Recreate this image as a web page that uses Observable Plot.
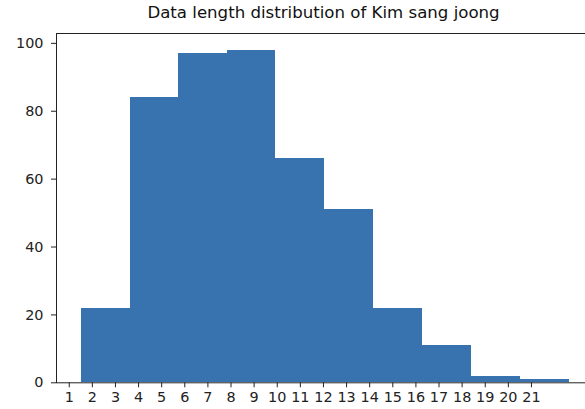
<!DOCTYPE html>
<html>
<head>
<meta charset="utf-8">
<script src="https://cdn.jsdelivr.net/npm/d3@7"></script>
<script src="https://cdn.jsdelivr.net/npm/@observablehq/plot@0.6"></script>
<style>
  html, body { margin: 0; padding: 0; background: #fff; overflow: hidden; }
  #wrap { width: 585px; height: 409px; position: relative; }
  #title { height: 26px; line-height: 26px; font-family: "DejaVu Sans", sans-serif; font-size: 16.6px; color: #111;
           text-align: center; padding-left: 62px; width: 523px; white-space: nowrap; }
</style>
</head>
<body>
<div id="wrap">
  <div id="title">Data length distribution of Kim sang joong</div>
  <div id="chart"></div>
</div>
<script>
const binStart = [1.51, 3.63, 5.74, 7.86, 9.94, 12.06, 14.18, 16.30, 18.41, 20.53];
const binEnd   = [3.63, 5.74, 7.86, 9.94, 12.06, 14.18, 16.30, 18.41, 20.53, 22.65];
const counts   = [22, 84, 97, 98, 66, 51, 22, 11, 2, 1];
const xTicks   = [1, 2, 3, 4, 5, 6, 7, 8, 9, 10, 11, 12, 13, 14, 15, 16, 17, 18, 19, 20, 21];
const yTicks   = [0, 20, 40, 60, 80, 100];

const bins = counts.map((c, i) => ({x1: binStart[i], x2: binEnd[i], y: c}));

const chart = Plot.plot({
  width: 585,
  height: 383,
  marginLeft: 56,
  marginRight: -8.6,
  marginTop: 7,
  marginBottom: 26.7,
  style: {fontFamily: "DejaVu Sans, sans-serif", fontSize: "14.4px", color: "#222", background: "white"},
  x: {domain: [0.449, 23.71], label: null},
  y: {domain: [0, 102.9], label: null},
  marks: [
    Plot.rectY(bins, {x1: "x1", x2: "x2", y: "y", fill: "#3873b0", inset: 0, shapeRendering: "crispEdges"}),
    Plot.frame({stroke: "#222", strokeWidth: 1}),
    Plot.axisX({ticks: xTicks, tickFormat: d => String(d), tickSize: 5, tickPadding: 4, label: null, stroke: "#222"}),
    Plot.axisY({ticks: yTicks, tickFormat: d => String(d), tickSize: 5, tickPadding: 8, label: null, stroke: "#222"})
  ]
});
document.getElementById("chart").appendChild(chart);
</script>
</body>
</html>
